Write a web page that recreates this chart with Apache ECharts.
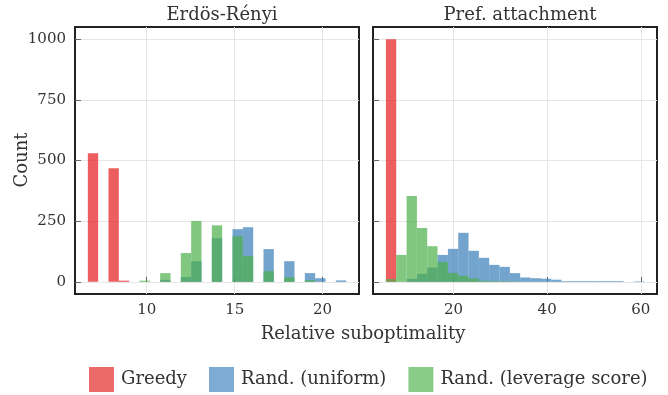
<!DOCTYPE html>
<html lang="en">
<head>
<meta charset="UTF-8">
<title>Relative suboptimality</title>
<script src="https://cdn.jsdelivr.net/npm/echarts@6/dist/echarts.min.js"></script>
<style>html,body{margin:0;padding:0;background:#fff}</style>
</head>
<body>
<div id="main" style="width:668px;height:395px;"></div>
<script>
    const seriesNames = ['Greedy', 'Rand. (uniform)', 'Rand. (leverage score)'];
    const panelTitles = ['Erdös-Rényi', 'Pref. attachment'];
    const yTicks = [0, 250, 500, 750, 1000];
    const xTicksER = [10, 15, 20];
    const xTicksPA = [20, 40, 60];

    // shared bin grid of each panel, 25 bins
    const binStartER = 6.65, binWidthER = 0.5876;
    const binStartPA = 5.56, binWidthPA = 2.206;

    // counts per bin
    const greedyER   = [530, 0, 468, 5, 0, 0, 0, 0, 0, 0, 0, 0, 0, 0, 0, 0, 0, 0, 0, 0, 0, 0, 0, 0, 0];
    const uniformER  = [0, 0, 0, 0, 0, 0, 0, 8, 0, 20, 85, 0, 180, 0, 217, 225, 0, 135, 0, 85, 0, 36, 15, 0, 6];
    const leverageER = [0, 0, 0, 0, 0, 5, 0, 36, 0, 119, 251, 0, 233, 0, 188, 106, 0, 44, 0, 19, 0, 7, 0, 0, 0];

    const greedyPA   = [1000, 0, 0, 0, 0, 0, 0, 0, 0, 0, 0, 0, 0, 0, 0, 0, 0, 0, 0, 0, 0, 0, 0, 0, 0];
    const uniformPA  = [0, 0, 12, 33, 59, 111, 136, 202, 128, 99, 70, 62, 36, 18, 15, 13, 9, 3, 3, 3, 3, 3, 3, 0, 2];
    const leveragePA = [12, 111, 354, 222, 147, 82, 37, 25, 14, 4, 3, 2, 1, 0, 0, 0, 0, 0, 0, 0, 0, 0, 0, 0, 0];

    const colors = ['#e41a1c', '#377eb8', '#4daf4a'];
    const font = '"DejaVu Serif", serif';
    const textColor = '#333';

    function toBins(counts, start, width)
    {
        let out = [];
        counts.forEach(function (c, i)
        {
            if (c > 0) out.push([start + i * width, start + (i + 1) * width, c]);
        });
        return out;
    }

    function renderBar(params, api)
    {
        let top = api.coord([api.value(0), api.value(2)]);
        let bottom = api.coord([api.value(1), 0]);
        let cs = params.coordSys;
        let shape = echarts.graphic.clipRectByRect(
            {x: top[0], y: top[1], width: bottom[0] - top[0], height: bottom[1] - top[1]},
            {x: cs.x, y: cs.y, width: cs.width, height: cs.height}
        );
        return shape && {
            type: 'rect',
            shape: shape,
            style: {fill: api.visual('color'), opacity: 0.7}
        };
    }

    function histSeries(name, idx, counts, start, width, colorIdx)
    {
        return {
            name: name,
            type: 'custom',
            xAxisIndex: idx,
            yAxisIndex: idx,
            renderItem: renderBar,
            encode: {x: [0, 1], y: 2},
            itemStyle: {color: colors[colorIdx]},
            data: toBins(counts, start, width)
        };
    }

    function xAxis(idx, min, max, ticks)
    {
        return {
            type: 'value', gridIndex: idx, min: min, max: max,
            axisLine: {show: false},
            axisTick: {show: true, inside: true, length: 5, customValues: ticks, lineStyle: {color: '#666'}},
            axisLabel: {customValues: ticks, margin: 9, color: textColor, fontFamily: font, fontSize: 15},
            splitLine: {show: true, lineStyle: {color: '#e6e6e6'}}
        };
    }

    function yAxis(idx, showLabels)
    {
        return {
            type: 'value', gridIndex: idx, min: -50, max: 1050,
            axisLine: {show: false},
            axisTick: {show: true, inside: true, length: 6, customValues: yTicks, lineStyle: {color: '#666'}},
            axisLabel: {
                show: showLabels, customValues: yTicks, margin: 9, color: textColor, fontFamily: font, fontSize: 15,
                formatter: function (v) { return String(v); }
            },
            splitLine: {show: true, lineStyle: {color: '#e6e6e6'}}
        };
    }

    let chart = echarts.init(document.getElementById('main'));
    let gridBox = {top: 27, height: 267, show: true, borderColor: '#222', borderWidth: 2, backgroundColor: 'transparent'};
    let titleStyle = {fontFamily: font, fontSize: 18, fontWeight: 'normal', color: textColor};

    let option = {
        animation: false,
        title: [
            {text: panelTitles[0], left: 217, top: 1, textAlign: 'center', textStyle: titleStyle},
            {text: panelTitles[1], left: 515, top: 1, textAlign: 'center', textStyle: titleStyle}
        ],
        grid: [
            Object.assign({left: 75, width: 284}, gridBox),
            Object.assign({left: 373, width: 284}, gridBox)
        ],
        xAxis: [
            xAxis(0, 5.92, 22.07, xTicksER),
            xAxis(1, 2.8, 63.46, xTicksPA)
        ],
        yAxis: [yAxis(0, true), yAxis(1, false)],
        legend: {
            left: 89, top: 367, padding: 0, itemWidth: 25, itemHeight: 25, itemGap: 22,
            icon: 'rect',
            textStyle: {fontFamily: font, fontSize: 18, color: textColor, padding: [0, 0, 0, 2]},
            data: seriesNames.map(function (n, i)
            {
                return {name: n, itemStyle: {color: colors[i], opacity: 0.65}};
            })
        },
        graphic: [
            {type: 'text', x: 22, y: 160, rotation: Math.PI / 2,
                style: {text: 'Count', fontFamily: font, fontSize: 18, fill: textColor, align: 'center', verticalAlign: 'middle'}},
            {type: 'text', x: 363, y: 334,
                style: {text: 'Relative suboptimality', fontFamily: font, fontSize: 18, fill: textColor, align: 'center', verticalAlign: 'middle'}}
        ],
        series: [
            histSeries(seriesNames[0], 0, greedyER, binStartER, binWidthER, 0),
            histSeries(seriesNames[1], 0, uniformER, binStartER, binWidthER, 1),
            histSeries(seriesNames[2], 0, leverageER, binStartER, binWidthER, 2),
            histSeries(seriesNames[0], 1, greedyPA, binStartPA, binWidthPA, 0),
            histSeries(seriesNames[1], 1, uniformPA, binStartPA, binWidthPA, 1),
            histSeries(seriesNames[2], 1, leveragePA, binStartPA, binWidthPA, 2)
        ]
    };
    chart.setOption(option);
</script>
</body>
</html>
